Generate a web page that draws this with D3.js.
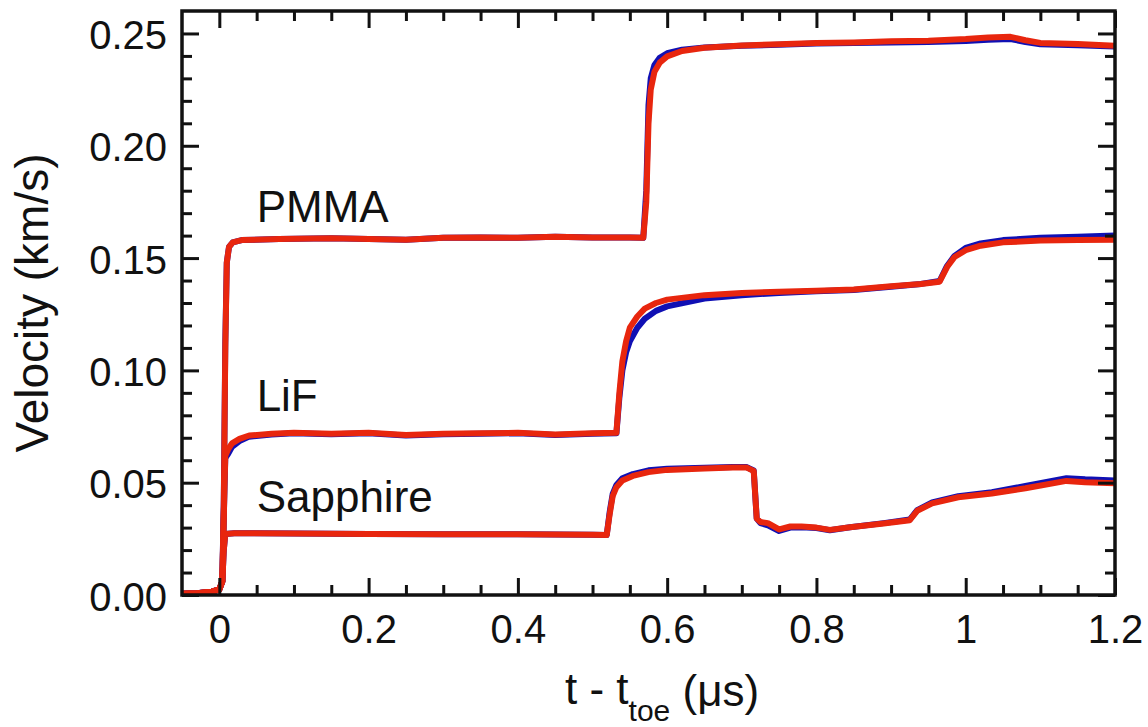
<!DOCTYPE html>
<html>
<head>
<meta charset="utf-8">
<script src="https://cdn.jsdelivr.net/npm/d3@7"></script>
<style>
  html, body { margin: 0; padding: 0; background: #fff; }
  svg { display: block; }
  text { font-family: "Liberation Sans", Arial, sans-serif; fill: #111; }
</style>
</head>
<body>
<svg id="chart" width="1148" height="727"></svg>
<script>
// ---------------- data ----------------
const xMajorTicks = [0, 0.2, 0.4, 0.6, 0.8, 1.0, 1.2];
const xTickLabels = ["0", "0.2", "0.4", "0.6", "0.8", "1", "1.2"];
const yMajorTicks = [0, 0.05, 0.10, 0.15, 0.20, 0.25];
const yTickLabels = ["0.00", "0.05", "0.10", "0.15", "0.20", "0.25"];
const xMinorTicks = [0.05,0.1,0.15,0.25,0.3,0.35,0.45,0.5,0.55,0.65,0.7,0.75,0.85,0.9,0.95,1.05,1.1,1.15];
const yMinorTicks = [0.01,0.02,0.03,0.04,0.06,0.07,0.08,0.09,0.11,0.12,0.13,0.14,0.16,0.17,0.18,0.19,0.21,0.22,0.23,0.24];

const materials = ["PMMA", "LiF", "Sapphire"];
const labelPos = [[0.05, 0.166], [0.05, 0.082], [0.05, 0.037]]; // [t, v] anchor of text labels

const pmmaBlue = [[-0.05,0.0005],[-0.03,0.0008],[-0.01,0.0015],[0.0,0.0025],[0.004,0.006],[0.006,0.042],[0.008,0.112],[0.010,0.148],[0.013,0.155],[0.018,0.157],[0.03,0.158],[0.08,0.1585],[0.15,0.1588],[0.2,0.1585],[0.25,0.1582],[0.3,0.159],[0.35,0.1592],[0.4,0.159],[0.45,0.1595],[0.5,0.1592],[0.55,0.1592],[0.568,0.159],[0.572,0.18],[0.575,0.218],[0.578,0.23],[0.583,0.236],[0.59,0.2392],[0.6,0.2412],[0.62,0.2428],[0.65,0.2438],[0.7,0.2445],[0.75,0.245],[0.8,0.2455],[0.85,0.2458],[0.9,0.246],[0.95,0.2462],[1.0,0.2466],[1.03,0.2472],[1.06,0.2475],[1.08,0.2462],[1.1,0.2452],[1.15,0.2448],[1.2,0.2442]];
const pmmaRed = [[-0.05,0.0005],[-0.03,0.0008],[-0.01,0.0015],[0.0,0.0025],[0.004,0.006],[0.006,0.04],[0.008,0.11],[0.010,0.148],[0.013,0.155],[0.018,0.157],[0.03,0.158],[0.08,0.1585],[0.15,0.1588],[0.2,0.1585],[0.25,0.1582],[0.3,0.159],[0.35,0.1592],[0.4,0.159],[0.45,0.1595],[0.5,0.1592],[0.55,0.1592],[0.568,0.159],[0.572,0.175],[0.575,0.21],[0.578,0.225],[0.583,0.233],[0.59,0.237],[0.6,0.2398],[0.62,0.2422],[0.65,0.2436],[0.7,0.2446],[0.75,0.2452],[0.8,0.2458],[0.85,0.246],[0.9,0.2465],[0.95,0.2468],[1.0,0.2475],[1.03,0.2482],[1.06,0.2485],[1.08,0.247],[1.1,0.2458],[1.15,0.2453],[1.2,0.2445]];

const lifBlue = [[-0.05,0.0005],[-0.03,0.0008],[-0.01,0.0015],[0.0,0.0025],[0.004,0.006],[0.006,0.035],[0.008,0.061],[0.012,0.063],[0.017,0.066],[0.027,0.0685],[0.04,0.0705],[0.07,0.0715],[0.1,0.072],[0.15,0.0716],[0.2,0.072],[0.25,0.071],[0.3,0.0716],[0.35,0.0718],[0.4,0.072],[0.45,0.0712],[0.5,0.0718],[0.532,0.072],[0.536,0.088],[0.54,0.1],[0.545,0.108],[0.55,0.113],[0.56,0.119],[0.57,0.123],[0.585,0.1265],[0.6,0.1285],[0.65,0.132],[0.7,0.1335],[0.75,0.1345],[0.8,0.1352],[0.85,0.1358],[0.9,0.1372],[0.94,0.1385],[0.965,0.1398],[0.975,0.1465],[0.985,0.151],[1.0,0.1545],[1.02,0.1565],[1.05,0.158],[1.1,0.159],[1.15,0.1595],[1.2,0.16]];
const lifRed = [[-0.05,0.0005],[-0.03,0.0008],[-0.01,0.0015],[0.0,0.0025],[0.004,0.006],[0.006,0.035],[0.008,0.062],[0.012,0.065],[0.017,0.0675],[0.027,0.0695],[0.04,0.071],[0.07,0.0718],[0.1,0.0722],[0.15,0.0718],[0.2,0.0722],[0.25,0.0712],[0.3,0.0718],[0.35,0.072],[0.4,0.0722],[0.45,0.0715],[0.5,0.072],[0.532,0.0722],[0.536,0.09],[0.54,0.104],[0.545,0.113],[0.55,0.119],[0.56,0.124],[0.57,0.1275],[0.585,0.13],[0.6,0.1315],[0.65,0.1335],[0.7,0.1345],[0.75,0.135],[0.8,0.1355],[0.85,0.136],[0.9,0.1375],[0.94,0.1385],[0.965,0.1395],[0.975,0.146],[0.985,0.1505],[1.0,0.1535],[1.02,0.1555],[1.05,0.157],[1.1,0.1578],[1.15,0.158],[1.2,0.1582]];

const sapphireBlue = [[-0.05,0.0005],[-0.03,0.0008],[-0.01,0.0015],[0.0,0.0025],[0.004,0.006],[0.006,0.02],[0.008,0.0272],[0.02,0.0275],[0.1,0.0274],[0.2,0.0272],[0.3,0.0271],[0.4,0.027],[0.5,0.0268],[0.519,0.0267],[0.523,0.037],[0.527,0.045],[0.532,0.049],[0.54,0.052],[0.554,0.0538],[0.575,0.0555],[0.6,0.0562],[0.65,0.0566],[0.688,0.057],[0.706,0.057],[0.716,0.0554],[0.72,0.034],[0.725,0.032],[0.735,0.031],[0.75,0.0285],[0.765,0.03],[0.78,0.0302],[0.8,0.0298],[0.818,0.0288],[0.845,0.0302],[0.89,0.032],[0.925,0.0336],[0.935,0.0378],[0.955,0.0412],[0.99,0.044],[1.035,0.0458],[1.08,0.0485],[1.135,0.052],[1.16,0.0515],[1.2,0.051]];
const sapphireRed = [[-0.05,0.0005],[-0.03,0.0008],[-0.01,0.0015],[0.0,0.0025],[0.004,0.006],[0.006,0.02],[0.008,0.0272],[0.02,0.0275],[0.1,0.0274],[0.2,0.0272],[0.3,0.0271],[0.4,0.027],[0.5,0.0268],[0.519,0.0267],[0.523,0.036],[0.527,0.044],[0.532,0.048],[0.54,0.051],[0.554,0.053],[0.575,0.0547],[0.6,0.0557],[0.65,0.0563],[0.688,0.0568],[0.706,0.0568],[0.716,0.0552],[0.72,0.034],[0.725,0.0325],[0.735,0.032],[0.75,0.0292],[0.765,0.0305],[0.78,0.0305],[0.8,0.03],[0.818,0.029],[0.845,0.0302],[0.89,0.0318],[0.925,0.0333],[0.935,0.0375],[0.955,0.0408],[0.99,0.0435],[1.035,0.0452],[1.08,0.0475],[1.135,0.0508],[1.16,0.0502],[1.2,0.0497]];

const blueTraces = [pmmaBlue, lifBlue, sapphireBlue];
const redTraces = [pmmaRed, lifRed, sapphireRed];

// ---------------- layout ----------------
const W = 1148, H = 727;
const L = 182, R = 1115, T = 11, B = 595;
const svg = d3.select("#chart");

const x = d3.scaleLinear().domain([-0.05, 1.2]).range([L, R]);
const y = d3.scaleLinear().domain([0, 0.26]).range([B, T]);

svg.append("defs").append("clipPath").attr("id", "plotclip")
  .append("rect").attr("x", L).attr("y", T).attr("width", R - L).attr("height", B - T);

const line = d3.line().x(d => x(d[0])).y(d => y(d[1]));

const plot = svg.append("g").attr("clip-path", "url(#plotclip)");
plot.selectAll("path.blue").data(blueTraces).join("path")
  .attr("class", "blue").attr("d", line)
  .attr("fill", "none").attr("stroke", "#1010b4").attr("stroke-width", 6)
  .attr("stroke-linejoin", "round").attr("stroke-linecap", "round");
plot.selectAll("path.red").data(redTraces).join("path")
  .attr("class", "red").attr("d", line)
  .attr("fill", "none").attr("stroke", "#e8260e").attr("stroke-width", 6)
  .attr("stroke-linejoin", "round").attr("stroke-linecap", "round");

// ---------------- axes ----------------
function styleAxis(g) {
  g.select(".domain").remove();
  g.selectAll(".tick line").attr("stroke", "#111").attr("stroke-width", 3);
}
const MAJ = 17, MIN = 10;

// bottom
svg.append("g").attr("transform", `translate(0,${B})`)
  .call(d3.axisBottom(x).tickValues(xMajorTicks).tickSize(-MAJ)
    .tickFormat((d, i) => xTickLabels[i]))
  .call(styleAxis)
  .call(g => g.selectAll("text").attr("font-size", 40).attr("fill", "#111")
    .attr("y", 48).attr("dy", 0));
svg.append("g").attr("transform", `translate(0,${B})`)
  .call(d3.axisBottom(x).tickValues(xMinorTicks).tickSize(-MIN).tickFormat(""))
  .call(styleAxis);
// top
svg.append("g").attr("transform", `translate(0,${T})`)
  .call(d3.axisTop(x).tickValues(xMajorTicks).tickSize(-MAJ).tickFormat(""))
  .call(styleAxis);
svg.append("g").attr("transform", `translate(0,${T})`)
  .call(d3.axisTop(x).tickValues(xMinorTicks).tickSize(-MIN).tickFormat(""))
  .call(styleAxis);
// left
svg.append("g").attr("transform", `translate(${L},0)`)
  .call(d3.axisLeft(y).tickValues(yMajorTicks).tickSize(-MAJ)
    .tickFormat((d, i) => yTickLabels[i]))
  .call(styleAxis)
  .call(g => g.selectAll("text").attr("font-size", 40).attr("fill", "#111")
    .attr("x", -15).attr("dy", "0.38em"));
svg.append("g").attr("transform", `translate(${L},0)`)
  .call(d3.axisLeft(y).tickValues(yMinorTicks).tickSize(-MIN).tickFormat(""))
  .call(styleAxis);
// right
svg.append("g").attr("transform", `translate(${R},0)`)
  .call(d3.axisRight(y).tickValues(yMajorTicks).tickSize(-MAJ).tickFormat(""))
  .call(styleAxis);
svg.append("g").attr("transform", `translate(${R},0)`)
  .call(d3.axisRight(y).tickValues(yMinorTicks).tickSize(-MIN).tickFormat(""))
  .call(styleAxis);

// frame
svg.append("rect").attr("x", L).attr("y", T).attr("width", R - L).attr("height", B - T)
  .attr("fill", "none").attr("stroke", "#111").attr("stroke-width", 3.5);

// ---------------- labels ----------------
svg.selectAll("text.mat").data(materials).join("text")
  .attr("class", "mat")
  .attr("x", (d, i) => x(labelPos[i][0]))
  .attr("y", (d, i) => y(labelPos[i][1]))
  .attr("font-size", 44)
  .text(d => d);

svg.append("text")
  .attr("transform", `translate(48,${(T + B) / 2}) rotate(-90)`)
  .attr("text-anchor", "middle")
  .attr("font-size", 46)
  .text("Velocity (km/s)");

const xl = svg.append("text")
  .attr("x", 565).attr("y", 704)
  .attr("text-anchor", "start")
  .attr("font-size", 44);
xl.append("tspan").text("t - t");
xl.append("tspan").attr("font-size", 30).attr("dy", 17).text("toe");
xl.append("tspan").attr("dy", -15).text(" (\u03bcs)");
</script>
</body>
</html>
